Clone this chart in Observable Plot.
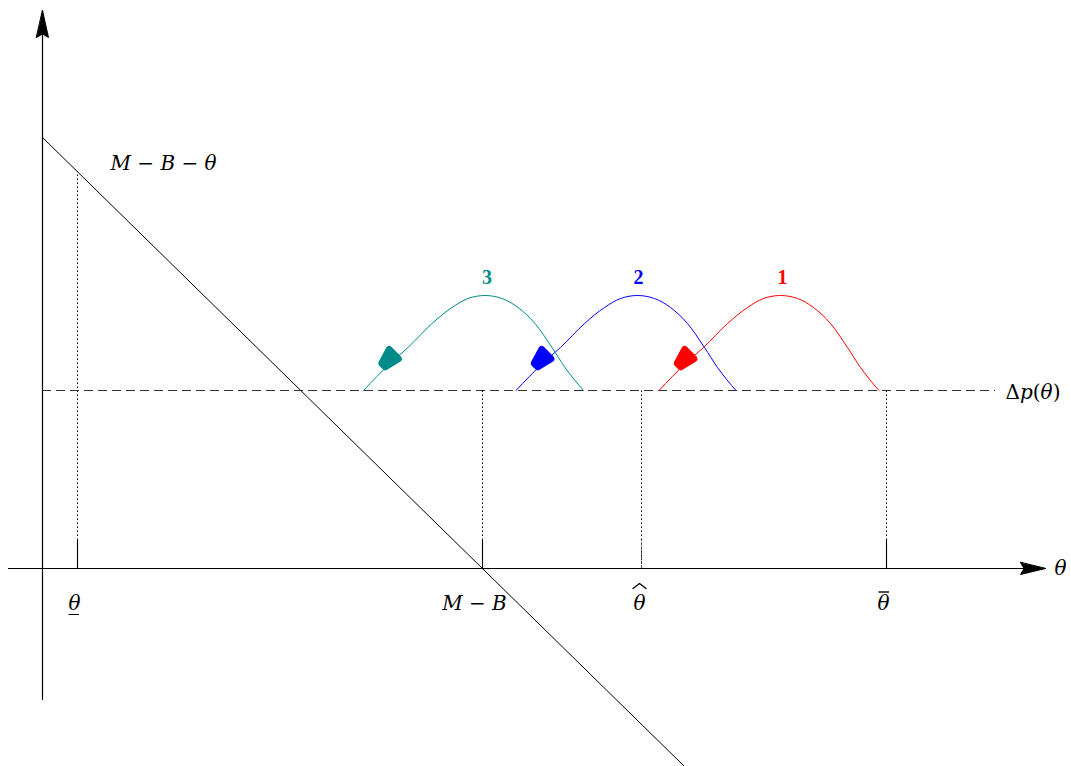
<!DOCTYPE html>
<html>
<head>
<meta charset="utf-8">
<script src="https://cdn.jsdelivr.net/npm/d3@7"></script>
<script src="https://cdn.jsdelivr.net/npm/@observablehq/plot@0.6"></script>
<style>
  html, body { margin: 0; padding: 0; background: #fff; }
  #chart svg { display: block; }
</style>
</head>
<body>
<div id="chart"></div>
<script>
// ---- data (units: x along θ, y along the vertical axis) ----
const curveNames = ["1", "2", "3"];
const curveColors = ["#ff0000", "#0000ff", "#008b8b"];
const curve1 = [[6.165,1.78],[6.43,2.05],[6.61,2.21],[6.85,2.45],[7.05,2.61],[7.21,2.70],[7.38,2.73],[7.55,2.70],[7.71,2.61],[7.88,2.45],[8.05,2.21],[8.18,2.01],[8.365,1.78]];
const curve2 = [[4.735,1.78],[5.00,2.05],[5.18,2.21],[5.42,2.45],[5.62,2.61],[5.78,2.70],[5.95,2.73],[6.12,2.70],[6.28,2.61],[6.45,2.45],[6.62,2.21],[6.75,2.01],[6.935,1.78]];
const curve3 = [[3.21,1.78],[3.475,2.05],[3.655,2.21],[3.895,2.45],[4.095,2.61],[4.255,2.70],[4.425,2.73],[4.595,2.70],[4.755,2.61],[4.925,2.45],[5.095,2.21],[5.225,2.01],[5.41,1.78]];
const curveLabelPos = [[7.40,2.91],[5.96,2.91],[4.444,2.91]];
const arrowPos = [[6.425,2.08],[4.995,2.08],[3.47,2.08]];
const arrowAngle = [225, 225, 225];

const tickX = [0.35, 4.40, 5.99, 8.44];
const tickLabels = ["θ", "M − B", "θ", "θ"];
const labelX = [0.32, 4.32, 5.97, 8.41];
const deltaP = 1.78;
const deltaPEnd = 9.53;
const mbLine = [[0, 4.31], [6.42, -1.98]];
const xAxisRange = [-0.34, 10.0];
const yAxisRange = [-1.32, 5.55];

// ---- build ----
const curves = [curve1, curve2, curve3].flatMap((c, i) =>
  c.map(([x, y]) => ({x, y, name: curveNames[i], color: curveColors[i]})));
const labels = curveNames.map((n, i) => ({x: curveLabelPos[i][0], y: curveLabelPos[i][1], text: n, color: curveColors[i]}));
const arrows = curveNames.map((n, i) => ({x: arrowPos[i][0], y: arrowPos[i][1], a: arrowAngle[i], color: curveColors[i]}));

const mbSlope = (mbLine[1][1] - mbLine[0][1]) / (mbLine[1][0] - mbLine[0][0]);
const lineAt = x => mbLine[0][1] + mbSlope * x;

const axisHead = {
  draw(ctx, l) {
    ctx.moveTo(0, -l); ctx.lineTo(6, 0); ctx.lineTo(0, -3.5); ctx.lineTo(-6, 0); ctx.closePath();
  }
};
const blob = {
  draw(ctx, l) {
    ctx.moveTo(-5, 0); ctx.lineTo(8, 0); ctx.lineTo(3.5, -l); ctx.lineTo(-1.5, -l); ctx.closePath();
  }
};

const serif = "'DejaVu Serif', 'Liberation Serif', serif";
const tickData = tickX.map((x, i) => ({x, label: tickLabels[i], lx: labelX[i]}));
// accents (wide hat over θ̂, bar over θ̄, underline under θ)
const hatX = labelX[2], barX = labelX[3], underX = labelX[0];
const hat = [[hatX - 0.065, -0.20], [hatX, -0.15], [hatX + 0.065, -0.20]];

const chart = Plot.plot({
  width: 1071,
  height: 766,
  margin: 0,
  x: {domain: [-0.42, 10.29], range: [0, 1071], axis: null},
  y: {domain: [-1.98, 5.68], range: [766, 0], axis: null},
  style: {background: "#fff", fontFamily: serif},
  marks: [
    // axes
    Plot.ruleY([0], {x1: xAxisRange[0], x2: xAxisRange[1], stroke: "black", strokeWidth: 1.2}),
    Plot.ruleX([0], {y1: yAxisRange[0], y2: yAxisRange[1], stroke: "black", strokeWidth: 1.2}),
    Plot.vector([{x: xAxisRange[1] + 0.03, y: 0}], {x: "x", y: "y", length: 25, rotate: 90, anchor: "end", shape: axisHead, fill: "black", stroke: "black", strokeWidth: 1}),
    Plot.vector([{x: 0, y: yAxisRange[1] + 0.03}], {x: "x", y: "y", length: 27, rotate: 0, anchor: "end", shape: axisHead, fill: "black", stroke: "black", strokeWidth: 1}),
    // M - B - θ line
    Plot.line(mbLine, {x: d => d[0], y: d => d[1], stroke: "black", strokeWidth: 1}),
    // Δp dashed line
    Plot.ruleY([deltaP], {x1: 0, x2: deltaPEnd, stroke: "#333", strokeWidth: 1.1, strokeDasharray: "9,5"}),
    // dotted verticals
    Plot.ruleX([tickX[0]], {y1: 0, y2: lineAt(tickX[0]), stroke: "black", strokeWidth: 1, strokeDasharray: "1.5,2.5"}),
    Plot.ruleX(tickX.slice(1), {y1: 0, y2: deltaP, stroke: "black", strokeWidth: 1, strokeDasharray: "1.5,2.5"}),
    // ticks
    Plot.ruleX([tickX[0], tickX[1], tickX[3]], {y1: 0, y2: 0.28, stroke: "black", strokeWidth: 1.1}),
    Plot.ruleX([tickX[2]], {y1: 0, y2: 0.28, stroke: "#555", strokeWidth: 1.1, strokeDasharray: "3,1.5"}),
    // tick labels
    Plot.text(tickData, {x: "lx", y: -0.355, text: "label", fontSize: 20, fontStyle: "italic", fill: "black"}),
    Plot.line(hat, {x: d => d[0], y: d => d[1], stroke: "black", strokeWidth: 1.3}),
    Plot.ruleY([-0.235], {x1: barX - 0.045, x2: barX + 0.06, stroke: "black", strokeWidth: 1.4}),
    Plot.ruleY([-0.46], {x1: underX - 0.055, x2: underX + 0.05, stroke: "black", strokeWidth: 1}),
    Plot.text(["θ"], {x: 10.18, y: 0, text: d => d, fontSize: 20, fontStyle: "italic", fill: "black"}),
    Plot.text(["M − B − θ"], {x: 0.68, y: 4.05, text: d => d, textAnchor: "start", fontSize: 20, fontStyle: "italic", fill: "black"}),
    Plot.text(["Δp(θ)"], {x: 9.63, y: 1.76, text: d => d, textAnchor: "start", fontSize: 20, fill: "black", className: "dp"}),
    // curves
    Plot.line(curves, {x: "x", y: "y", z: "name", stroke: "color", strokeWidth: 1, curve: "monotone-x"}),
    Plot.vector(arrows, {x: "x", y: "y", rotate: "a", length: 15, anchor: "middle", shape: blob, fill: "color", stroke: "color", strokeWidth: 7, strokeLinejoin: "round"}),
    Plot.text(labels, {x: "x", y: "y", text: "text", fill: "color", fontSize: 20, fontWeight: "bold", fontFamily: "'Liberation Serif', serif"})
  ]
});
document.getElementById("chart").appendChild(chart);
// mixed upright/italic for Δp(θ)
d3.select(chart).selectAll("g.dp text").each(function() {
  const t = d3.select(this);
  t.text(null);
  t.append("tspan").text("Δ");
  t.append("tspan").attr("font-style", "italic").text("p");
  t.append("tspan").text("(");
  t.append("tspan").attr("font-style", "italic").text("θ");
  t.append("tspan").text(")");
});
</script>
</body>
</html>
